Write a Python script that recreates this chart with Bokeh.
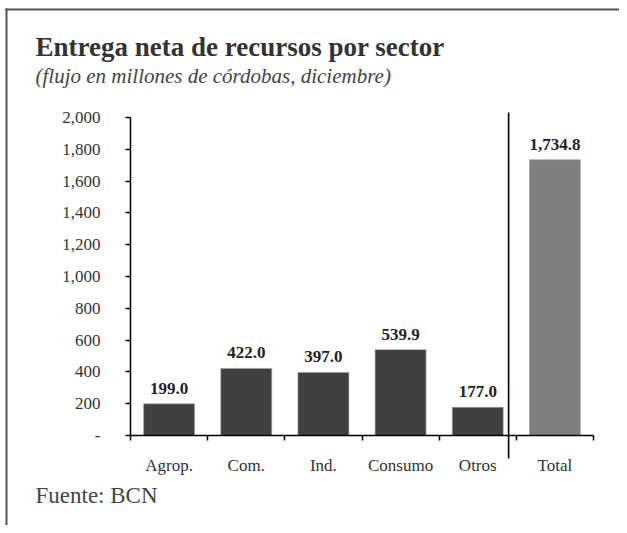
from bokeh.plotting import figure
from bokeh.models import (Range1d, FixedTicker, Label, BoxAnnotation, NumeralTickFormatter,
                          ColumnDataSource, LinearAxis)
from bokeh.core.properties import value
from bokeh.embed import file_html
from bokeh.resources import INLINE

categories = ["Agrop.", "Com.", "Ind.", "Consumo", "Otros", "Total"]
values = [199.0, 422.0, 397.0, 539.9, 177.0, 1734.8]
value_labels = ["199.0", "422.0", "397.0", "539.9", "177.0", "1,734.8"]
bar_colors = ["#404040", "#404040", "#404040", "#404040", "#404040", "#7f7f7f"]
y_ticks = [0, 200, 400, 600, 800, 1000, 1200, 1400, 1600, 1800, 2000]

FONT = "Liberation Serif"
W, H = 619, 525

# pixel geometry of the plotting area inside the canvas
PX_LEFT, PX_RIGHT = 130, 593      # x = 0 .. 6
PX_ZERO, PX_TOP = 435, 117        # y = 0 .. 2000
n = len(categories)
ux = (PX_RIGHT - PX_LEFT) / n
uy = (PX_ZERO - PX_TOP) / 2000.0
x_range = Range1d(-PX_LEFT / ux, n + (W - PX_RIGHT) / ux)
y_range = Range1d(-(H - PX_ZERO) / uy, 2000 + PX_TOP / uy)

xs = [i + 0.5 for i in range(n)]
src = ColumnDataSource(dict(x=xs, top=values, lab=value_labels, color=bar_colors))

p = figure(width=W, height=H, output_backend="svg", toolbar_location=None,
           x_range=x_range, y_range=y_range,
           x_axis_location=None, y_axis_location=None,
           min_border=0, min_border_left=0, min_border_right=0,
           min_border_top=0, min_border_bottom=0)
p.outline_line_color = None
p.xgrid.visible = False
p.ygrid.visible = False
p.background_fill_color = "white"
p.border_fill_color = "white"

p.vbar(x="x", top="top", width=0.66, bottom=0, fill_color="color",
       line_color="#a0a0a0", line_width=0.6, source=src)
p.text(x="x", y="top", text="lab", source=src, text_font=value(FONT),
       text_font_style="bold", text_font_size="17px", text_color="#222222",
       text_align="center", text_baseline="bottom", y_offset=-10)

# divider between sectors and total
div_top = 2000 + (PX_TOP - 112) / uy
div_bot = -(458 - PX_ZERO) / uy
p.segment(x0=[4.9], y0=[div_bot], x1=[4.9], y1=[div_top], line_color="black", line_width=1.6)

# y axis
yax = LinearAxis(bounds=(0, 2000), fixed_location=0)
yax.ticker = FixedTicker(ticks=y_ticks)
yax.formatter = NumeralTickFormatter(format="0,0")
yax.major_label_overrides = {0: "-"}
yax.major_tick_in = 0
yax.major_tick_out = 5
yax.minor_tick_out = 0
yax.minor_tick_in = 0
yax.axis_line_color = "black"
yax.axis_line_width = 1.5
yax.major_tick_line_width = 1.5
yax.major_label_standoff = 25
yax.major_label_text_font = FONT
yax.major_label_text_font_size = "17px"
yax.major_label_text_color = "#333333"
p.add_layout(yax, "left")

# x axis at zero
xax = LinearAxis(fixed_location=0, bounds=(0, n))
xax.ticker = FixedTicker(ticks=xs, minor_ticks=list(range(n + 1)))
xax.major_label_overrides = {x: c for x, c in zip(xs, categories)}
xax.major_tick_in = 0
xax.major_tick_out = 0
xax.minor_tick_in = 0
xax.minor_tick_out = 5
xax.minor_tick_line_color = "black"
xax.minor_tick_line_width = 1.5
xax.axis_line_color = "black"
xax.axis_line_width = 1.5
xax.major_label_standoff = 15
xax.major_label_text_font = FONT
xax.major_label_text_font_size = "17px"
xax.major_label_text_color = "#333333"
p.add_layout(xax, "below")

# titles and source note (canvas pixels, y from top)
p.add_layout(Label(x=35, y=46, x_units="canvas", y_units="canvas",
                   text="Entrega neta de recursos por sector",
                   text_font=FONT, text_font_style="bold", text_font_size="27px",
                   text_color="#333333", text_baseline="middle"))
p.add_layout(Label(x=35, y=75, x_units="canvas", y_units="canvas",
                   text="(flujo en millones de córdobas, diciembre)",
                   text_font=FONT, text_font_style="italic", text_font_size="21px",
                   text_color="#444444", text_baseline="middle"))
p.add_layout(Label(x=35, y=495, x_units="canvas", y_units="canvas",
                   text="Fuente: BCN",
                   text_font=FONT, text_font_size="23px",
                   text_color="#444444", text_baseline="middle"))

# frame lines (top and left)
p.add_layout(BoxAnnotation(left=5, right=W, top=8, bottom=10,
                           left_units="canvas", right_units="canvas",
                           top_units="canvas", bottom_units="canvas",
                           fill_color="#555555", fill_alpha=1, line_color=None))
p.add_layout(BoxAnnotation(left=5, right=7, top=8, bottom=H,
                           left_units="canvas", right_units="canvas",
                           top_units="canvas", bottom_units="canvas",
                           fill_color="#555555", fill_alpha=1, line_color=None))

open("out.html", "w").write(file_html(p, INLINE))
